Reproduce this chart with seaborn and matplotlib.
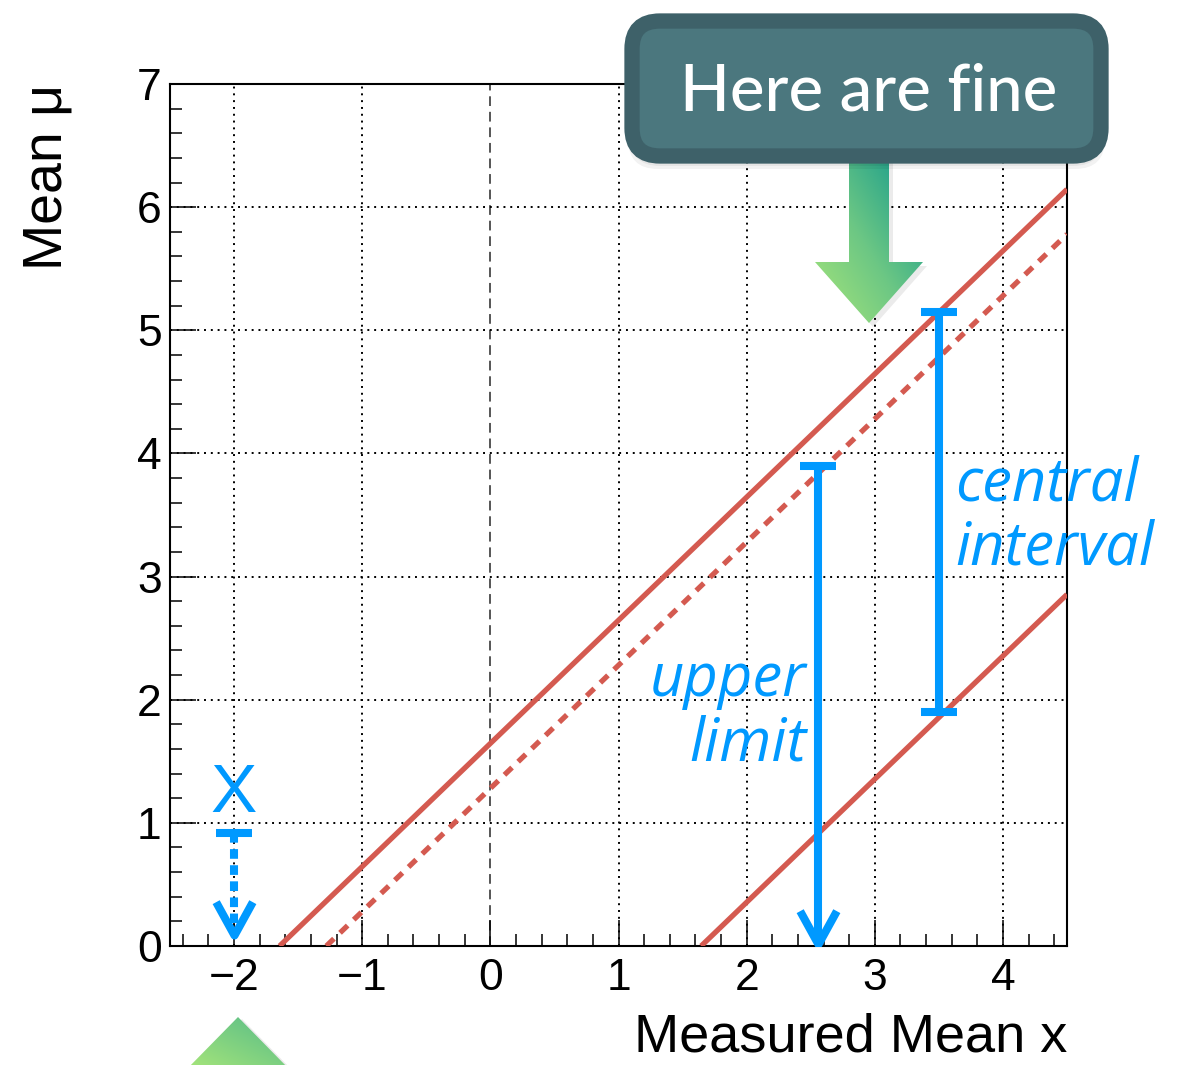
import numpy as np
import matplotlib
matplotlib.use("Agg")
import matplotlib.pyplot as plt
import seaborn as sns
from matplotlib.patches import FancyBboxPatch, Polygon
from matplotlib.colors import LinearSegmentedColormap
from matplotlib.markers import MarkerStyle
from matplotlib.path import Path
from matplotlib.ticker import MultipleLocator

# ---------------- data ----------------
upper_band_x = [-1.645, 4.5]
upper_band_mu = [0.0, 6.145]
limit_x = [-1.28, 4.5]
limit_mu = [0.0, 5.78]
lower_band_x = [1.645, 4.5]
lower_band_mu = [0.0, 2.855]

ul_x, ul_top, ul_tip = 2.56, 3.9, 0.02          # upper-limit arrow
ci_x, ci_low, ci_high = 3.5, 1.9, 5.15          # central interval
neg_x, neg_top, neg_tip, neg_mark = -2.0, 0.92, 0.09, 1.09

x_ticks = [-2, -1, 0, 1, 2, 3, 4]
y_ticks = [0, 1, 2, 3, 4, 5, 6, 7]
x_range = (-2.5, 4.5)
y_range = (0, 7)

RED = "#D45A50"
BLUE = "#0099FF"

sns.set_style("ticks")
plt.rcParams["font.family"] = ["Liberation Sans", "DejaVu Sans"]
plt.rcParams["axes.axisbelow"] = True
plt.rcParams["text.color"] = "black"
plt.rcParams["axes.labelcolor"] = "black"
plt.rcParams["xtick.color"] = "black"
plt.rcParams["ytick.color"] = "black"

fig = plt.figure(figsize=(11.78, 10.65), dpi=100)
ax = fig.add_axes([170 / 1178, 119 / 1065, 897 / 1178, 862 / 1065])
ax.set_xlim(*x_range)
ax.set_ylim(*y_range)

# grid
ax.set_xticks(x_ticks)
ax.set_yticks(y_ticks)
ax.xaxis.set_minor_locator(MultipleLocator(0.2))
ax.yaxis.set_minor_locator(MultipleLocator(0.2))
ax.grid(True, which="major", color="black", linestyle=(0, (1, 2.5)), linewidth=1.4)
for t, v in zip(ax.xaxis.get_major_ticks(), x_ticks):
    if v == 0:
        t.gridline.set_color("#555555")
        t.gridline.set_linestyle((0, (5, 3)))
        t.gridline.set_linewidth(1.4)

for s in ax.spines.values():
    s.set_color("black")
    s.set_linewidth(1.5)

ax.tick_params(which="both", direction="in", top=False, right=False,
               colors="black", labelcolor="black", width=1.1)
ax.tick_params(which="major", length=19, labelsize=32)
ax.tick_params(which="minor", length=8.6)
ax.tick_params(axis="x", which="major", pad=9)
ax.tick_params(axis="y", which="major", pad=6)

# red bands
sns.lineplot(x=upper_band_x, y=upper_band_mu, ax=ax, color=RED, lw=3.8,
             solid_capstyle="butt", zorder=3)
sns.lineplot(x=lower_band_x, y=lower_band_mu, ax=ax, color=RED, lw=3.8,
             solid_capstyle="butt", zorder=3)
sns.lineplot(x=limit_x, y=limit_mu, ax=ax, color=RED, lw=3.8,
             linestyle=(0, (2.0, 1.6)), dash_capstyle="butt", zorder=3)

# chevron marker (tip at origin, arms up)
chev = Path([(-0.55, 1.0), (0.0, 0.0), (0.55, 1.0)],
            [Path.MOVETO, Path.LINETO, Path.LINETO])
chev_marker = MarkerStyle(chev, joinstyle="miter", capstyle="butt")

LW_B = 5.8
# upper limit arrow
ax.plot([ul_x, ul_x], [ul_top, ul_tip + 0.05], color=BLUE, lw=LW_B,
        solid_capstyle="butt", zorder=4)
ax.plot([ul_x], [ul_top], marker="_", ms=26, mew=LW_B, color=BLUE, zorder=4)
ax.plot([ul_x], [ul_tip], marker=chev_marker, ms=48, mew=LW_B,
        mfc="none", mec=BLUE, zorder=4)

# central interval
ax.plot([ci_x, ci_x], [ci_low, ci_high], color=BLUE, lw=LW_B,
        solid_capstyle="butt", zorder=4)
ax.plot([ci_x, ci_x], [ci_low, ci_high], ls="none", marker="_", ms=26,
        mew=LW_B, color=BLUE, zorder=4)

# negative measurement: dotted arrow + X
ax.plot([neg_x, neg_x], [neg_top, neg_tip + 0.1], color=BLUE, lw=LW_B,
        linestyle=(0, (1.2, 0.8)), dash_capstyle="butt", zorder=4)
ax.plot([neg_x], [neg_top], marker="_", ms=26, mew=LW_B, color=BLUE, zorder=4)
ax.plot([neg_x], [neg_tip], marker=chev_marker, ms=48, mew=LW_B,
        mfc="none", mec=BLUE, zorder=4)
ax.text(neg_x, neg_mark, "X", color=BLUE, fontsize=50, ha="center",
        va="baseline", family=["Liberation Sans"], zorder=4)

# annotations
txt_font = ["Open Sans", "DejaVu Sans"]
ax.text(2.47, 1.51, "upper\nlimit", color=BLUE, fontsize=43, style="italic",
        family=txt_font, ha="right", va="baseline", linespacing=1.08,
        multialignment="right", zorder=5)
ax.text(3.63, 3.10, "central\ninterval", color=BLUE, fontsize=43, style="italic",
        family=txt_font, ha="left", va="baseline", linespacing=1.08,
        multialignment="left", zorder=5, clip_on=False)

# axis labels
ax.set_xlabel("Measured Mean x", fontsize=39, loc="right", color="black")
ax.xaxis.label.set_va("baseline")
ax.xaxis.set_label_coords(1.0, -(1052 - 946) / 862)
ax.set_ylabel("Mean μ", fontsize=40, loc="top", color="black")
ax.yaxis.label.set_va("center")
ax.yaxis.set_label_coords(-(170 - 48) / 897, 1.0)

# ---------------- decoration overlay (pixel coordinates) ----------------
ov = fig.add_axes([0, 0, 1, 1], zorder=10)
ov.set_xlim(0, 1178)
ov.set_ylim(1065, 0)
ov.axis("off")
ov.patch.set_alpha(0)

green_cmap = LinearSegmentedColormap.from_list("g", ["#A8E67A", "#6CC784", "#189C8C"])


def gradient_poly(verts, direction, zorder):
    verts = np.asarray(verts, float)
    x0, x1 = verts[:, 0].min(), verts[:, 0].max()
    y0, y1 = verts[:, 1].min(), verts[:, 1].max()
    xs = np.linspace(0, 1, 200)
    ys = np.linspace(0, 1, 200)
    X, Y = np.meshgrid(xs, ys)
    T = direction(X, Y)
    poly = Polygon(verts, closed=True, facecolor="none", edgecolor="none")
    ov.add_patch(poly)
    im = ov.imshow(T, cmap=green_cmap, extent=(x0, x1, y1, y0), origin="upper",
                   vmin=0, vmax=1, zorder=zorder, aspect="auto",
                   interpolation="bilinear")
    im.set_clip_path(poly)


# arrow shadow
arrow_verts = [(849, 148), (889, 148), (889, 262), (923, 262), (869, 323),
               (815, 262), (849, 262)]
shadow = Polygon([(x + 4, y + 4) for x, y in arrow_verts], closed=True,
                 facecolor="black", alpha=0.08, edgecolor="none", zorder=1)
ov.add_patch(shadow)
gradient_poly(arrow_verts, lambda X, Y: np.clip((X + (1 - Y)) / 2 * 1.1, 0, 1), 2)

# bottom triangle
tri_verts = [(238, 1017), (186, 1070), (290, 1070)]
ov.add_patch(Polygon([(x + 4, y + 2) for x, y in tri_verts], closed=True,
                     facecolor="black", alpha=0.08, edgecolor="none", zorder=1))
gradient_poly(tri_verts, lambda X, Y: np.clip(0.35 * (X + (1 - Y)), 0, 1), 2)

# callout box with shadow
for i, a in enumerate([0.05, 0.05, 0.05]):
    ov.add_patch(FancyBboxPatch((632 - 2 * i, 28 + 3 * i), 469 + 4 * i, 135,
                                boxstyle="round,pad=0,rounding_size=30",
                                facecolor="black", alpha=a, edgecolor="none",
                                zorder=3))
box = FancyBboxPatch((632, 21), 469, 135, boxstyle="round,pad=0,rounding_size=28",
                     facecolor="#4B777E", edgecolor="#3E6169", linewidth=11,
                     zorder=4)
ov.add_patch(box)
ov.text(869, 92, "Here are fine", color="white", fontsize=47,
        family=["Lato", "DejaVu Sans"], fontweight="medium",
        ha="center", va="center", zorder=5)

fig.savefig("out.png", dpi=100)
